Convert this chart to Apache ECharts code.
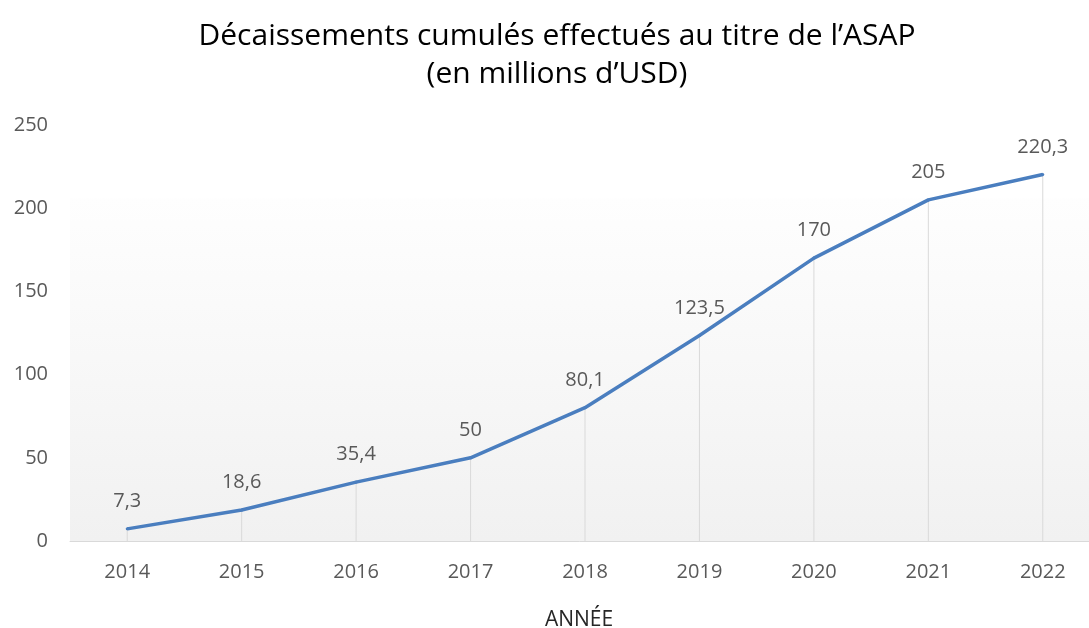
<!DOCTYPE html>
<html>
<head>
<meta charset="utf-8">
<script src="https://cdn.jsdelivr.net/npm/echarts@6/dist/echarts.min.js"></script>
<style>
  html, body { margin: 0; padding: 0; background: #fff; }
  #chart { width: 1089px; height: 628px; }
</style>
</head>
<body>
<div id="chart"></div>
<script>
const years = ['2014', '2015', '2016', '2017', '2018', '2019', '2020', '2021', '2022'];
const cumul = [7.3, 18.6, 35.4, 50, 80.1, 123.5, 170, 205, 220.3];

const fmt = v => String(v).replace('.', ',');
const font = 'Open Sans';

const chart = echarts.init(document.getElementById('chart'));
chart.setOption({
  backgroundColor: '#fff',
  title: [
    {
      text: 'Décaissements cumulés effectués au titre de l\u2019ASAP\n(en millions d\u2019USD)',
      left: 552, top: 12, textAlign: 'center',
      textStyle: { fontFamily: font, fontSize: 30, fontWeight: 'normal', color: '#000', lineHeight: 38 }
    },
    {
      text: 'ANNÉE',
      left: 574, top: 605, textAlign: 'center',
      textStyle: { fontFamily: font, fontSize: 21, fontWeight: 'normal', color: '#262626' }
    }
  ],
  grid: { left: 70, top: 125, width: 1030, height: 416, outerBoundsMode: 'none', containLabel: false },
  xAxis: {
    type: 'category',
    data: years,
    boundaryGap: true,
    axisLine: { lineStyle: { color: '#d9d9d9', width: 1 } },
    axisTick: { show: false },
    axisLabel: { color: '#595959', fontFamily: font, fontSize: 20, margin: 21 }
  },
  yAxis: {
    type: 'value',
    min: 0, max: 250, interval: 50,
    axisLine: { show: false },
    axisTick: { show: false },
    splitLine: { show: false },
    axisLabel: { color: '#595959', fontFamily: font, fontSize: 20, margin: 22 }
  },
  series: [
    {
      type: 'bar',
      data: cumul,
      barWidth: 1,
      itemStyle: { color: '#d9d9d9' },
      silent: true,
      z: 1,
      markArea: {
        silent: true,
        itemStyle: {
          color: new echarts.graphic.LinearGradient(0, 0, 0, 1, [
            { offset: 0, color: '#fefefe' },
            { offset: 1, color: '#f1f1f1' }
          ])
        },
        data: [[{ yAxis: 206, xAxis: 'min' }, { yAxis: 0, xAxis: 'max' }]]
      }
    },
    {
      type: 'line',
      data: cumul,
      z: 3,
      symbol: 'circle',
      symbolSize: 3,
      showSymbol: true,
      itemStyle: { color: '#4a7ebf' },
      lineStyle: { color: '#4a7ebf', width: 3.5 },
      label: {
        show: true,
        position: 'top',
        distance: 16,
        color: '#595959',
        fontFamily: font,
        fontSize: 20,
        formatter: p => fmt(p.value)
      }
    }
  ]
});
</script>
</body>
</html>
